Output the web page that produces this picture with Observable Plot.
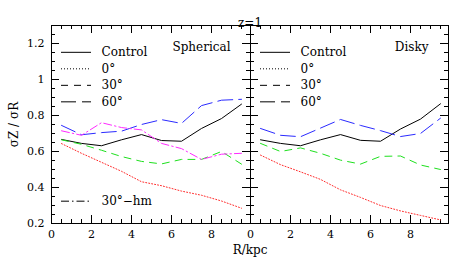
<!DOCTYPE html>
<html>
<head>
<meta charset="utf-8">
<script src="https://cdn.jsdelivr.net/npm/d3@7"></script>
<script src="https://cdn.jsdelivr.net/npm/@observablehq/plot@0.6"></script>
<style>
  html, body { margin: 0; padding: 0; background: white; }
  #chart { display: flex; flex-direction: row; width: 463px; height: 262px; }
  #chart svg { display: block; overflow: visible; }
</style>
</head>
<body>
<div id="chart"></div>
<script>
// ---- data ----
const radius = [0.5, 1.5, 2.5, 3.5, 4.5, 5.5, 6.5, 7.5, 8.5, 9.5];
const panels = ["Spherical", "Disky"];
const seriesNames = ["Control", "0°", "30°", "60°", "30°−hm"];

const sphControl = [0.667, 0.645, 0.632, 0.665, 0.694, 0.661, 0.657, 0.728, 0.783, 0.863];
const sph0       = [0.644, 0.590, 0.540, 0.490, 0.432, 0.410, 0.380, 0.357, 0.325, 0.285];
const sph30      = [0.665, 0.640, 0.607, 0.572, 0.545, 0.531, 0.556, 0.556, 0.600, 0.530];
const sph60      = [0.745, 0.693, 0.705, 0.713, 0.750, 0.777, 0.756, 0.855, 0.885, 0.890];
const sph30hm    = [0.715, 0.690, 0.760, 0.733, 0.720, 0.645, 0.616, 0.556, 0.585, 0.590];

const dskControl = [0.665, 0.645, 0.632, 0.665, 0.694, 0.662, 0.657, 0.725, 0.780, 0.865];
const dsk0       = [0.580, 0.527, 0.487, 0.445, 0.387, 0.345, 0.300, 0.270, 0.245, 0.220];
const dsk30      = [0.645, 0.600, 0.620, 0.590, 0.552, 0.530, 0.573, 0.575, 0.525, 0.500];
const dsk60      = [0.728, 0.690, 0.682, 0.730, 0.778, 0.745, 0.716, 0.683, 0.700, 0.785];

const xTickLabels = [0, 2, 4, 6, 8];
const yTickLabels = [0.2, 0.4, 0.6, 0.8, 1.0, 1.2];
const title = "z=1";
const xLabel = "R/kpc";
const yLabel = "σZ / σR";

const seriesByPanel = {
  "Spherical": {"Control": sphControl, "0°": sph0, "30°": sph30, "60°": sph60, "30°−hm": sph30hm},
  "Disky": {"Control": dskControl, "0°": dsk0, "30°": dsk30, "60°": dsk60}
};

// ---- styles ----
const style = {
  "Control": {stroke: "#000000", dash: null},
  "0°":      {stroke: "#ff2a2a", dash: "1,2"},
  "30°":     {stroke: "#1ee01e", dash: "7,6"},
  "60°":     {stroke: "#2a2aff", dash: "15,6"},
  "30°−hm":  {stroke: "#ff2aff", dash: "8,3,1.5,3"}
};

const H = 262, mT = 25, mB = 39;
const yDom = [0.2, 1.3];
const fh = H - mT - mB;
const minorLen = 4, majorLen = 8;
const xMinor = d3.range(0.5, 9.9, 0.5);
const xMajor = [2, 4, 6, 8];
const yMinor = d3.range(0.25, 1.29, 0.05);
const yMajor = [0.4, 0.6, 0.8, 1.0, 1.2];

function panel(name, cfg) {
  const {width, marginLeft, marginRight, xMax, left} = cfg;
  const xDom = [0, xMax];
  const fw = width - marginLeft - marginRight;
  const pxX = xMax / fw, pxY = (yDom[1] - yDom[0]) / fh;

  const rows = [];
  const names = seriesNames.filter(s => seriesByPanel[name][s]);
  for (const s of names) seriesByPanel[name][s].forEach((v, i) => rows.push({series: s, r: radius[i], v}));

  const legend = [];
  names.slice(0, 4).forEach((s, i) => legend.push({series: s, y: 1.151 - i * 0.0917}));
  if (names.includes("30°−hm")) legend.push({series: "30°−hm", y: 0.324});

  const marks = [];
  for (const [vals, len] of [[xMinor, minorLen], [xMajor, majorLen]]) {
    marks.push(Plot.ruleX(vals, {x: d => d, y1: () => yDom[0], y2: () => yDom[0] + len * pxY, stroke: "#000"}));
    marks.push(Plot.ruleX(vals, {x: d => d, y1: () => yDom[1], y2: () => yDom[1] - len * pxY, stroke: "#000"}));
  }
  for (const [vals, len] of [[yMinor, minorLen], [yMajor, majorLen]]) {
    marks.push(Plot.ruleY(vals, {y: d => d, x1: () => xDom[0], x2: () => xDom[0] + len * pxX, stroke: "#000"}));
    marks.push(Plot.ruleY(vals, {y: d => d, x1: () => xDom[1], x2: () => xDom[1] - len * pxX, stroke: "#000"}));
  }
  marks.push(Plot.frame({stroke: "#000", strokeWidth: 1}));
  marks.push(Plot.axisX({ticks: xTickLabels, tickSize: 0, tickPadding: 7, tickFormat: d => String(d), label: null}));
  if (left) {
    marks.push(Plot.axisY({ticks: yTickLabels, tickSize: 0, tickPadding: 7, tickFormat: d => String(+d.toFixed(1)), label: null}));
    marks.push(Plot.text([yLabel], {text: d => d, frameAnchor: "left", rotate: -90, dx: -37, textAnchor: "middle", fontSize: 12}));
  } else {
    marks.push(Plot.text([title], {text: d => d, frameAnchor: "top-left", dx: -0.5, dy: -7, textAnchor: "middle", fontSize: 12}));
    marks.push(Plot.text([xLabel], {text: d => d, frameAnchor: "bottom-left", dx: -0.5, dy: 30, textAnchor: "middle", fontSize: 12}));
  }
  for (const s of names) {
    marks.push(Plot.line(rows.filter(d => d.series === s), {
      x: "r", y: "v", stroke: style[s].stroke, strokeWidth: 1, strokeDasharray: style[s].dash || undefined
    }));
    marks.push(Plot.ruleY(legend.filter(d => d.series === s), {
      y: "y", x1: () => 0.5, x2: () => 2.0, stroke: "#000", strokeWidth: 1, strokeDasharray: style[s].dash || undefined
    }));
  }
  marks.push(Plot.text(legend, {x: () => 2.5, y: "y", text: "series", textAnchor: "start", fontSize: 12}));
  marks.push(Plot.text([name], {text: d => d, frameAnchor: "top-right", dx: -20, dy: 17, textAnchor: "end", fontSize: 12}));

  return Plot.plot({
    width, height: H, marginLeft, marginRight, marginTop: mT, marginBottom: mB,
    style: {fontFamily: "'DejaVu Serif', serif", fontSize: "11px", background: "transparent", color: "black", overflow: "visible"},
    x: {domain: xDom, label: null, axis: null},
    y: {domain: yDom, label: null, axis: null},
    marks
  });
}

const host = document.getElementById("chart");
host.appendChild(panel("Spherical", {width: 250, marginLeft: 51, marginRight: 0, xMax: 9.95, left: true}));
host.appendChild(panel("Disky", {width: 213, marginLeft: 0, marginRight: 15, xMax: 9.9, left: false}));
</script>
</body>
</html>
